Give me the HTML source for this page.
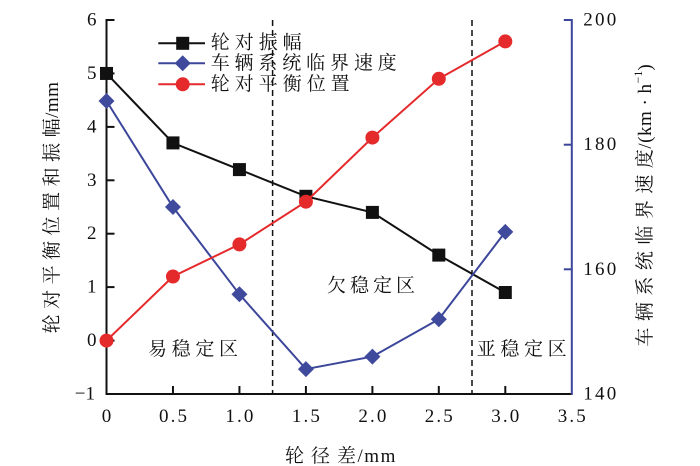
<!DOCTYPE html>
<html><head><meta charset="utf-8"><style>
html,body{margin:0;padding:0;background:#fff;}
svg{display:block;}
text{font-family:"Liberation Serif","Noto Serif CJK SC",serif;}
</style></head><body>
<svg width="700" height="466" viewBox="0 0 700 466" xmlns="http://www.w3.org/2000/svg" font-family="Liberation Serif, Noto Serif CJK SC, serif">
<rect width="700" height="466" fill="#fff"/>
<!-- dashed lines -->
<line x1="272.6" y1="20" x2="272.6" y2="394" stroke="#111" stroke-width="1.5" stroke-dasharray="6,4"/>
<line x1="472" y1="20" x2="472" y2="394" stroke="#111" stroke-width="1.5" stroke-dasharray="6,4"/>
<!-- axes -->
<line x1="106.5" y1="19" x2="106.5" y2="395" stroke="#111" stroke-width="2"/>
<line x1="105.5" y1="394" x2="572" y2="394" stroke="#111" stroke-width="2"/>
<line x1="571.8" y1="19" x2="571.8" y2="395" stroke="#3c469a" stroke-width="2"/>
<!-- left ticks -->
<g stroke="#111" stroke-width="2">
<line x1="106.5" y1="20" x2="114.5" y2="20"/>
<line x1="106.5" y1="73.4" x2="114.5" y2="73.4"/>
<line x1="106.5" y1="126.9" x2="114.5" y2="126.9"/>
<line x1="106.5" y1="180.3" x2="114.5" y2="180.3"/>
<line x1="106.5" y1="233.7" x2="114.5" y2="233.7"/>
<line x1="106.5" y1="287.1" x2="114.5" y2="287.1"/>
<line x1="106.5" y1="340.6" x2="114.5" y2="340.6"/>
<line x1="172.96" y1="394" x2="172.96" y2="386"/>
<line x1="239.43" y1="394" x2="239.43" y2="386"/>
<line x1="305.9" y1="394" x2="305.9" y2="386"/>
<line x1="372.4" y1="394" x2="372.4" y2="386"/>
<line x1="438.8" y1="394" x2="438.8" y2="386"/>
<line x1="505.3" y1="394" x2="505.3" y2="386"/>
</g>
<g stroke="#3c469a" stroke-width="2">
<line x1="571.8" y1="20" x2="563.8" y2="20"/>
<line x1="571.8" y1="144.7" x2="563.8" y2="144.7"/>
<line x1="571.8" y1="269.3" x2="563.8" y2="269.3"/>
</g>
<!-- left tick labels -->
<g font-size="19" fill="#111" text-anchor="end" dominant-baseline="central">
<text x="96.5" y="20" style="font-family:'Liberation Serif',serif">6</text>
<text x="96.5" y="73.4" style="font-family:'Liberation Serif',serif">5</text>
<text x="96.5" y="126.9" style="font-family:'Liberation Serif',serif">4</text>
<text x="96.5" y="180.3" style="font-family:'Liberation Serif',serif">3</text>
<text x="96.5" y="233.7" style="font-family:'Liberation Serif',serif">2</text>
<text x="96.5" y="287.1" style="font-family:'Liberation Serif',serif">1</text>
<text x="96.5" y="340.6" style="font-family:'Liberation Serif',serif">0</text>
<text x="95" y="394" style="font-family:'Liberation Serif',serif">−1</text>
</g>
<!-- x tick labels -->
<g font-size="19" fill="#111" dominant-baseline="central">
<text x="106.5" y="416.5" text-anchor="middle" style="font-family:'Liberation Serif',serif">0</text>
<text x="158.96" y="416.5" textLength="28" lengthAdjust="spacing" style="font-family:'Liberation Serif',serif">0.5</text>
<text x="225.43" y="416.5" textLength="28" lengthAdjust="spacing" style="font-family:'Liberation Serif',serif">1.0</text>
<text x="291.9" y="416.5" textLength="28" lengthAdjust="spacing" style="font-family:'Liberation Serif',serif">1.5</text>
<text x="358.4" y="416.5" textLength="28" lengthAdjust="spacing" style="font-family:'Liberation Serif',serif">2.0</text>
<text x="424.8" y="416.5" textLength="28" lengthAdjust="spacing" style="font-family:'Liberation Serif',serif">2.5</text>
<text x="491.3" y="416.5" textLength="28" lengthAdjust="spacing" style="font-family:'Liberation Serif',serif">3.0</text>
<text x="557.8" y="416.5" textLength="28" lengthAdjust="spacing" style="font-family:'Liberation Serif',serif">3.5</text>
</g>
<!-- right tick labels -->
<g font-size="19" fill="#111" dominant-baseline="central">
<text x="583.3" y="20" textLength="33" lengthAdjust="spacing" style="font-family:'Liberation Serif',serif">200</text>
<text x="583.3" y="144.7" textLength="33" lengthAdjust="spacing" style="font-family:'Liberation Serif',serif">180</text>
<text x="583.3" y="269.3" textLength="33" lengthAdjust="spacing" style="font-family:'Liberation Serif',serif">160</text>
<text x="583.3" y="394" textLength="33" lengthAdjust="spacing" style="font-family:'Liberation Serif',serif">140</text>
</g>
<!-- axis titles -->
<text x="285" y="456" font-size="19" fill="#111" dominant-baseline="central" style="font-family:'Liberation Serif','Noto Serif CJK SC',serif"><tspan letter-spacing="7">轮径</tspan><tspan letter-spacing="1.5">差/mm</tspan></text>
<text transform="translate(52,207.5) rotate(-90)" font-size="19" fill="#111" text-anchor="middle" dominant-baseline="central" style="font-family:'Liberation Serif','Noto Serif CJK SC',serif"><tspan letter-spacing="5.5">轮对平衡位置和振</tspan><tspan letter-spacing="0.5">幅/mm</tspan></text>
<text transform="translate(645,205.5) rotate(-90)" font-size="19" fill="#111" text-anchor="middle" dominant-baseline="central" style="font-family:'Liberation Serif','Noto Serif CJK SC',serif"><tspan letter-spacing="6.5">车辆系统临界速</tspan><tspan letter-spacing="0.5">度/(km · h</tspan><tspan font-size="12" dy="-7">−1</tspan><tspan dy="7">)</tspan></text>
<!-- region labels -->
<g font-size="19" fill="#111" dominant-baseline="central" style="font-family:'Liberation Serif','Noto Serif CJK SC',serif">
<text x="148" y="349.5" textLength="90" lengthAdjust="spacing">易稳定区</text>
<text x="327" y="286" textLength="88" lengthAdjust="spacing">欠稳定区</text>
<text x="476.7" y="349.5" textLength="90" lengthAdjust="spacing">亚稳定区</text>
</g>
<!-- series: black -->
<polyline fill="none" stroke="#111" stroke-width="2" points="106.5,73.45 172.96,142.9 239.43,169.6 305.9,196.3 372.4,212.4 438.8,255.1 505.3,292.5"/>
<g fill="#111">
<rect x="100" y="66.95" width="13" height="13"/>
<rect x="166.46" y="136.4" width="13" height="13"/>
<rect x="232.93" y="163.1" width="13" height="13"/>
<rect x="299.4" y="189.8" width="13" height="13"/>
<rect x="365.9" y="205.9" width="13" height="13"/>
<rect x="432.3" y="248.6" width="13" height="13"/>
<rect x="498.8" y="286" width="13" height="13"/>
</g>
<!-- series: blue -->
<polyline fill="none" stroke="#3c469a" stroke-width="2" points="106.5,101 172.96,207 239.43,294.3 305.9,369.1 372.4,356.6 438.8,319.2 505.3,231.9"/>
<g fill="#3f4a9c">
<polygon points="106.5,93 114.5,101 106.5,109 98.5,101"/>
<polygon points="172.96,199 180.96,207 172.96,215 164.96,207"/>
<polygon points="239.43,286.3 247.43,294.3 239.43,302.3 231.43,294.3"/>
<polygon points="305.9,361.1 313.9,369.1 305.9,377.1 297.9,369.1"/>
<polygon points="372.4,348.6 380.4,356.6 372.4,364.6 364.4,356.6"/>
<polygon points="438.8,311.2 446.8,319.2 438.8,327.2 430.8,319.2"/>
<polygon points="505.3,223.9 513.3,231.9 505.3,239.9 497.3,231.9"/>
</g>
<!-- series: red -->
<polyline fill="none" stroke="#e52a2c" stroke-width="2" points="106.5,340.6 172.96,276.5 239.43,244.4 305.9,201.7 372.4,137.6 438.8,78.8 505.3,41.4"/>
<g fill="#e52a2c">
<circle cx="106.5" cy="340.6" r="7"/>
<circle cx="172.96" cy="276.5" r="7"/>
<circle cx="239.43" cy="244.4" r="7"/>
<circle cx="305.9" cy="201.7" r="7"/>
<circle cx="372.4" cy="137.6" r="7"/>
<circle cx="438.8" cy="78.8" r="7"/>
<circle cx="505.3" cy="41.4" r="7"/>
</g>
<!-- legend -->
<line x1="158.3" y1="43.3" x2="205" y2="43.3" stroke="#111" stroke-width="2"/>
<rect x="176.2" y="36.8" width="13" height="13" fill="#111"/>
<line x1="158.3" y1="63.3" x2="205" y2="63.3" stroke="#3c469a" stroke-width="2"/>
<polygon points="182.7,55.3 190.7,63.3 182.7,71.3 174.7,63.3" fill="#3f4a9c"/>
<line x1="158.3" y1="84.3" x2="205" y2="84.3" stroke="#e52a2c" stroke-width="2"/>
<circle cx="182.7" cy="84.3" r="7" fill="#e52a2c"/>
<g font-size="19" fill="#111" dominant-baseline="central" style="font-family:'Liberation Serif','Noto Serif CJK SC',serif">
<text x="210.7" y="43" textLength="91" lengthAdjust="spacing">轮对振幅</text>
<text x="210.7" y="63.5" textLength="186" lengthAdjust="spacing">车辆系统临界速度</text>
<text x="210.7" y="84.5" textLength="139" lengthAdjust="spacing">轮对平衡位置</text>
</g>
</svg>
</body></html>
